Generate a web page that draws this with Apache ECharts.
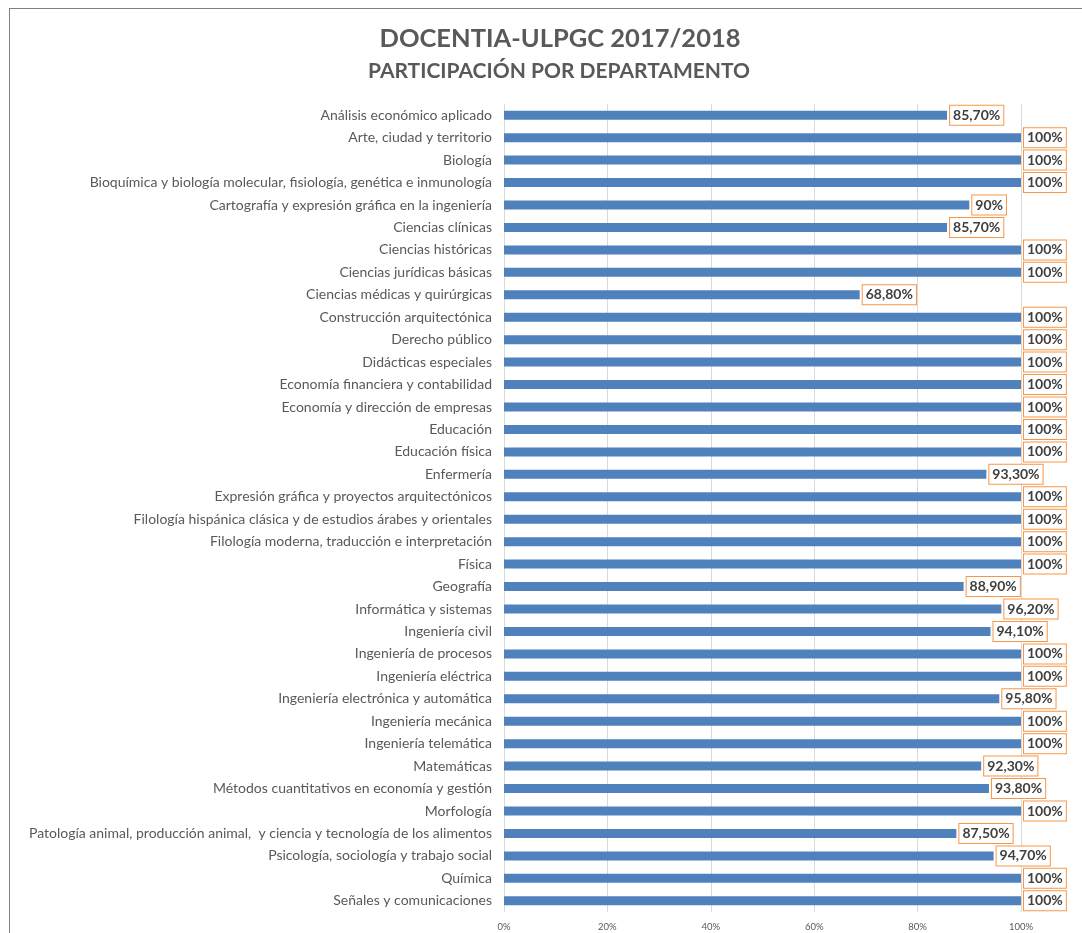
<!DOCTYPE html>
<html>
<head>
<meta charset="utf-8">
<script src="https://cdn.jsdelivr.net/npm/echarts@6/dist/echarts.min.js"></script>
<style>
  html, body { margin: 0; padding: 0; background: #fff; overflow: hidden; }
  #frame { position: absolute; left: 9px; top: 8px; width: 1200px; height: 1000px;
           border-left: 1px solid #808080; border-top: 1px solid #808080; }
  #chart { position: absolute; left: 0; top: 0; width: 1082px; height: 933px; }
</style>
</head>
<body>
<div id="frame"></div>
<div id="chart"></div>
<script>
const departments = [
  'Análisis económico aplicado',
  'Arte, ciudad y territorio',
  'Biología',
  'Bioquímica y biología molecular, fisiología, genética e inmunología',
  'Cartografía y expresión gráfica en la ingeniería',
  'Ciencias clínicas',
  'Ciencias históricas',
  'Ciencias jurídicas básicas',
  'Ciencias médicas y quirúrgicas',
  'Construcción arquitectónica',
  'Derecho público',
  'Didácticas especiales',
  'Economía financiera y contabilidad',
  'Economía y dirección de empresas',
  'Educación',
  'Educación física',
  'Enfermería',
  'Expresión gráfica y proyectos arquitectónicos',
  'Filología hispánica clásica y de estudios árabes y orientales',
  'Filología moderna, traducción e interpretación',
  'Física',
  'Geografía',
  'Informática y sistemas',
  'Ingeniería civil',
  'Ingeniería de procesos',
  'Ingeniería eléctrica',
  'Ingeniería electrónica y automática',
  'Ingeniería mecánica',
  'Ingeniería telemática',
  'Matemáticas',
  'Métodos cuantitativos en economía y gestión',
  'Morfología',
  'Patología animal, producción animal,  y ciencia y tecnología de los alimentos',
  'Psicología, sociología y trabajo social',
  'Química',
  'Señales y comunicaciones'
];

const participation = [
  85.7, 100, 100, 100, 90, 85.7, 100, 100, 68.8, 100,
  100, 100, 100, 100, 100, 100, 93.3, 100, 100, 100,
  100, 88.9, 96.2, 94.1, 100, 100, 95.8, 100, 100, 92.3,
  93.8, 100, 87.5, 94.7, 100, 100
];

const xTicks = [0, 20, 40, 60, 80, 100];

const FONT = 'Lato, "Open Sans", sans-serif';

function pctLabel(v) {
  return Number.isInteger(v) ? v + '%' : v.toFixed(2).replace('.', ',') + '%';
}

const chart = echarts.init(document.getElementById('chart'), null, { renderer: 'canvas' });

const option = {
  backgroundColor: 'transparent',
  animation: false,
  title: [
    {
      text: 'DOCENTIA-ULPGC 2017/2018',
      left: 555,
      top: 21,
      textAlign: 'center',
      textStyle: { fontFamily: FONT, fontWeight: 'bold', fontSize: 25.5, color: '#595959' }
    },
    {
      text: 'PARTICIPACIÓN POR DEPARTAMENTO',
      left: 554,
      top: 56,
      textAlign: 'center',
      textStyle: { fontFamily: FONT, fontWeight: 'bold', fontSize: 21, color: '#595959' }
    }
  ],
  grid: { left: 504, right: 61, top: 104, bottom: 21, containLabel: false },
  xAxis: {
    type: 'value',
    min: xTicks[0],
    max: xTicks[xTicks.length - 1],
    interval: 20,
    axisLine: { show: false },
    axisTick: { show: false },
    splitLine: { show: true, lineStyle: { color: '#d9d9d9', width: 1 } },
    axisLabel: {
      fontFamily: FONT, fontSize: 9.5, color: '#595959', margin: 10,
      formatter: v => v + '%'
    }
  },
  yAxis: {
    type: 'category',
    inverse: true,
    data: departments,
    axisLine: { show: true, lineStyle: { color: '#d9d9d9' } },
    axisTick: { show: false },
    axisLabel: { fontFamily: FONT, fontSize: 14, color: '#595959', margin: 12 }
  },
  series: [{
    type: 'bar',
    data: participation,
    barWidth: 9,
    itemStyle: { color: '#4f81bd' },
    label: {
      show: true,
      position: 'right',
      distance: 3,
      formatter: p => pctLabel(p.value),
      fontFamily: FONT,
      fontWeight: 'bold',
      fontSize: 14,
      color: '#404040',
      backgroundColor: '#fff',
      borderColor: '#f79646',
      borderWidth: 1,
      padding: [3, 3, 2, 3]
    }
  }]
};

chart.setOption(option);
</script>
</body>
</html>
